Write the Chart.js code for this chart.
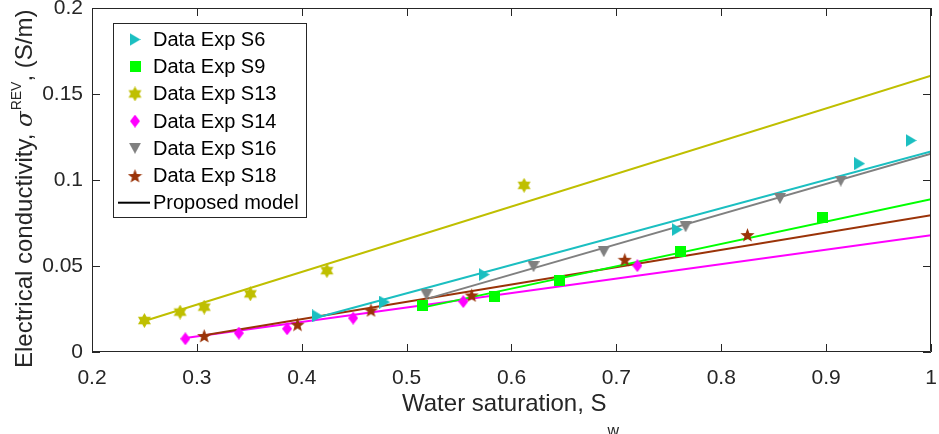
<!DOCTYPE html>
<html>
<head>
<meta charset="utf-8">
<script src="https://cdn.jsdelivr.net/npm/chart.js@4.4.0/dist/chart.umd.min.js"></script>
<style>
  html, body { margin: 0; padding: 0; background: #fff; }
  #wrap { width: 939px; height: 434px; position: relative; }
</style>
</head>
<body>
<div id="wrap"><canvas id="chart"></canvas></div>
<script>
// measured data, water saturation vs conductivity (S/m)
const satS6 = [0.415, 0.479, 0.574, 0.758, 0.932, 0.981];
const condS6 = [0.021, 0.029, 0.045, 0.0712, 0.1095, 0.123];

const satS9 = [0.515, 0.584, 0.646, 0.761, 0.897];
const condS9 = [0.0268, 0.0322, 0.0413, 0.0587, 0.0782];

const satS13 = [0.250, 0.284, 0.307, 0.351, 0.424, 0.612];
const condS13 = [0.0183, 0.0232, 0.0261, 0.0338, 0.0473, 0.0969];

const satS14 = [0.289, 0.340, 0.386, 0.449, 0.554, 0.720];
const condS14 = [0.0077, 0.011, 0.0135, 0.0197, 0.0293, 0.0502];

const satS16 = [0.519, 0.621, 0.688, 0.766, 0.856, 0.914];
const condS16 = [0.0332, 0.0496, 0.0583, 0.0728, 0.0892, 0.0994];

const satS18 = [0.307, 0.396, 0.466, 0.562, 0.708, 0.825];
const condS18 = [0.0096, 0.0162, 0.0245, 0.0332, 0.0539, 0.0683];

// proposed model, end points of each fitted curve
const modelSatS6 = [0.413, 1.0];
const modelCondS6 = [0.0198, 0.1166];
const modelSatS9 = [0.515, 1.0];
const modelCondS9 = [0.0258, 0.0888];
const modelSatS13 = [0.25, 1.0];
const modelCondS13 = [0.018, 0.1606];
const modelSatS14 = [0.289, 1.0];
const modelCondS14 = [0.0081, 0.0679];
const modelSatS16 = [0.521, 1.0];
const modelCondS16 = [0.0312, 0.1153];
const modelSatS18 = [0.307, 1.0];
const modelCondS18 = [0.0098, 0.0795];

const xTickLabels = ["0.2", "0.3", "0.4", "0.5", "0.6", "0.7", "0.8", "0.9", "1"];
const yTickLabels = ["0", "0.05", "0.1", "0.15", "0.2"];

const legendLabels = ["Data Exp S6", "Data Exp S9", "Data Exp S13", "Data Exp S14",
                      "Data Exp S16", "Data Exp S18", "Proposed model"];

const CYAN = "#1bbfc1";
const GREEN = "#00ff00";
const OLIVE = "#bfbf00";
const MAGENTA = "#ff00ff";
const GREY = "#808080";
const BROWN = "#9a3308";
const INK = "#262626";
const FONT = "'Liberation Sans', Arial, sans-serif";

// small canvases used as point styles
function makeMarker(shape, color, w, h) {
  const c = document.createElement("canvas");
  c.width = w;
  c.height = h;
  const g = c.getContext("2d");
  g.fillStyle = color;
  g.beginPath();
  const cx = w / 2, cy = h / 2;
  if (shape === "right") {
    g.moveTo(0, 0); g.lineTo(w, cy); g.lineTo(0, h);
  } else if (shape === "down") {
    g.moveTo(0, 0); g.lineTo(w, 0); g.lineTo(cx, h);
  } else if (shape === "square") {
    g.rect(0, 0, w, h);
  } else if (shape === "diamond") {
    g.moveTo(cx, 0); g.lineTo(w, cy); g.lineTo(cx, h); g.lineTo(0, cy);
  } else if (shape === "hexagram" || shape === "pentagram") {
    const n = shape === "hexagram" ? 6 : 5;
    const R = Math.min(w, h) / 2;
    const r = shape === "hexagram" ? R * 0.58 : R * 0.42;
    for (let i = 0; i < n * 2; i++) {
      const a = -Math.PI / 2 + (i * Math.PI) / n;
      const rad = i % 2 === 0 ? R : r;
      const px = cx + rad * Math.cos(a);
      const py = cy + rad * Math.sin(a) + (shape === "pentagram" ? 1 : 0);
      if (i === 0) g.moveTo(px, py); else g.lineTo(px, py);
    }
  }
  g.closePath();
  g.fill();
  return c;
}

const markS6 = makeMarker("right", CYAN, 11, 13);
const markS9 = makeMarker("square", GREEN, 11, 11);
const markS13 = makeMarker("hexagram", OLIVE, 15, 15);
const markS14 = makeMarker("diamond", MAGENTA, 10, 13);
const markS16 = makeMarker("down", GREY, 12, 11);
const markS18 = makeMarker("pentagram", BROWN, 15, 15);

function pts(xs, ys) {
  return xs.map((x, i) => ({ x: x, y: ys[i] }));
}

function scatterSet(label, xs, ys, marker, color) {
  return {
    type: "scatter",
    label: label,
    data: pts(xs, ys),
    pointStyle: marker,
    pointRadius: 7,
    pointHoverRadius: 7,
    backgroundColor: color,
    borderColor: color,
    showLine: false,
    order: 1,
  };
}

function modelSet(xs, ys, color) {
  return {
    type: "line",
    label: "Proposed model",
    data: pts(xs, ys),
    borderColor: color,
    borderWidth: 2,
    pointRadius: 0,
    fill: false,
    tension: 0,
    order: 2,
  };
}

const legendMarks = [markS6, markS9, markS13, markS14, markS16, markS18];

// MATLAB style box, inward ticks, axis titles and legend
const matlabAxes = {
  id: "matlabAxes",
  afterDraw(chart) {
    const ctx = chart.ctx;
    const a = chart.chartArea;
    const xs = chart.scales.x;
    const ys = chart.scales.y;
    ctx.save();
    ctx.strokeStyle = INK;
    ctx.lineWidth = 1;
    ctx.beginPath();
    ctx.rect(a.left + 0.5, a.top + 0.5, a.right - a.left - 1, a.bottom - a.top - 1);
    ctx.stroke();

    const tl = 8;
    ctx.beginPath();
    xs.ticks.forEach((t) => {
      const px = Math.round(xs.getPixelForValue(t.value)) + 0.5;
      ctx.moveTo(px, a.bottom); ctx.lineTo(px, a.bottom - tl);
      ctx.moveTo(px, a.top); ctx.lineTo(px, a.top + tl);
    });
    ys.ticks.forEach((t) => {
      const py = Math.round(ys.getPixelForValue(t.value)) + 0.5;
      ctx.moveTo(a.left, py); ctx.lineTo(a.left + tl, py);
      ctx.moveTo(a.right, py); ctx.lineTo(a.right - tl, py);
    });
    ctx.stroke();

    // x title with subscript
    ctx.fillStyle = INK;
    ctx.textBaseline = "alphabetic";
    ctx.textAlign = "left";
    ctx.font = "24px " + FONT;
    const xMain = "Water saturation, S";
    const xStart = 402;
    ctx.fillText(xMain, xStart, 411);
    const wMain = ctx.measureText(xMain).width;
    ctx.font = "16px " + FONT;
    ctx.fillText("w", xStart + wMain + 1, 436);

    // y title, rotated, with superscript
    ctx.save();
    ctx.translate(32, 368);
    ctx.rotate(-Math.PI / 2);
    let cx = 0;
    ctx.font = "24px " + FONT;
    const p1 = "Electrical conductivity, ";
    ctx.fillText(p1, cx, 0);
    cx += ctx.measureText(p1).width;
    ctx.font = "italic 23px 'DejaVu Serif', serif";
    ctx.fillText("\u03c3", cx, 0);
    cx += ctx.measureText("\u03c3").width + 1;
    ctx.font = "14px " + FONT;
    ctx.fillText("REV", cx, -11);
    cx += ctx.measureText("REV").width;
    ctx.font = "24px " + FONT;
    ctx.fillText(", (S/m)", cx, 0);
    ctx.restore();

    // legend box
    const lx = 113.5, ly = 23.5, lw = 193, lh = 194;
    ctx.fillStyle = "#fff";
    ctx.fillRect(lx, ly, lw, lh);
    ctx.strokeStyle = INK;
    ctx.strokeRect(lx, ly, lw, lh);
    ctx.font = "20px " + FONT;
    ctx.textBaseline = "middle";
    ctx.fillStyle = "#000";
    const rowY = 39.5, rowGap = 27.2;
    legendLabels.forEach((label, i) => {
      const y = rowY + i * rowGap;
      if (i < legendMarks.length) {
        const m = legendMarks[i];
        ctx.drawImage(m, 135 - m.width / 2, y - m.height / 2);
      } else {
        ctx.strokeStyle = "#000";
        ctx.lineWidth = 2;
        ctx.beginPath();
        ctx.moveTo(118, y); ctx.lineTo(150, y);
        ctx.stroke();
      }
      ctx.fillText(label, 153, y + 1);
    });
    ctx.restore();
  },
};

new Chart(document.getElementById("chart"), {
  type: "scatter",
  data: {
    datasets: [
      modelSet(modelSatS13, modelCondS13, OLIVE),
      modelSet(modelSatS6, modelCondS6, CYAN),
      modelSet(modelSatS16, modelCondS16, GREY),
      modelSet(modelSatS9, modelCondS9, GREEN),
      modelSet(modelSatS18, modelCondS18, BROWN),
      modelSet(modelSatS14, modelCondS14, MAGENTA),
      scatterSet("Data Exp S6", satS6, condS6, markS6, CYAN),
      scatterSet("Data Exp S9", satS9, condS9, markS9, GREEN),
      scatterSet("Data Exp S13", satS13, condS13, markS13, OLIVE),
      scatterSet("Data Exp S14", satS14, condS14, markS14, MAGENTA),
      scatterSet("Data Exp S16", satS16, condS16, markS16, GREY),
      scatterSet("Data Exp S18", satS18, condS18, markS18, BROWN),
    ],
  },
  options: {
    responsive: true,
    maintainAspectRatio: false,
    animation: false,
    layout: { padding: { top: 7, right: 5, left: 0, bottom: 0 } },
    plugins: {
      legend: { display: false },
      tooltip: { enabled: false },
    },
    scales: {
      x: {
        type: "linear",
        min: 0.2,
        max: 1,
        afterBuildTicks: (scale) => {
          scale.ticks = xTickLabels.map((s) => ({ value: parseFloat(s) }));
        },
        ticks: {
          callback: (v, i) => xTickLabels[i],
          color: INK,
          font: { family: FONT, size: 21 },
          padding: 14,
          maxRotation: 0,
          autoSkip: false,
        },
        grid: { display: false, drawTicks: false },
        border: { display: false },
        afterFit: (scale) => {
          scale.height = 82;
          scale.paddingLeft = 0;
          scale.paddingRight = 0;
        },
      },
      y: {
        type: "linear",
        min: 0,
        max: 0.2,
        afterBuildTicks: (scale) => {
          scale.ticks = yTickLabels.map((s) => ({ value: parseFloat(s) }));
        },
        ticks: {
          callback: (v, i) => yTickLabels[i],
          color: INK,
          font: { family: FONT, size: 21 },
          padding: 9,
          autoSkip: false,
        },
        grid: { display: false, drawTicks: false },
        border: { display: false },
        afterFit: (scale) => {
          scale.width = 92;
          scale.paddingTop = 0;
          scale.paddingBottom = 0;
        },
      },
    },
  },
  plugins: [matlabAxes],
});
</script>
</body>
</html>
